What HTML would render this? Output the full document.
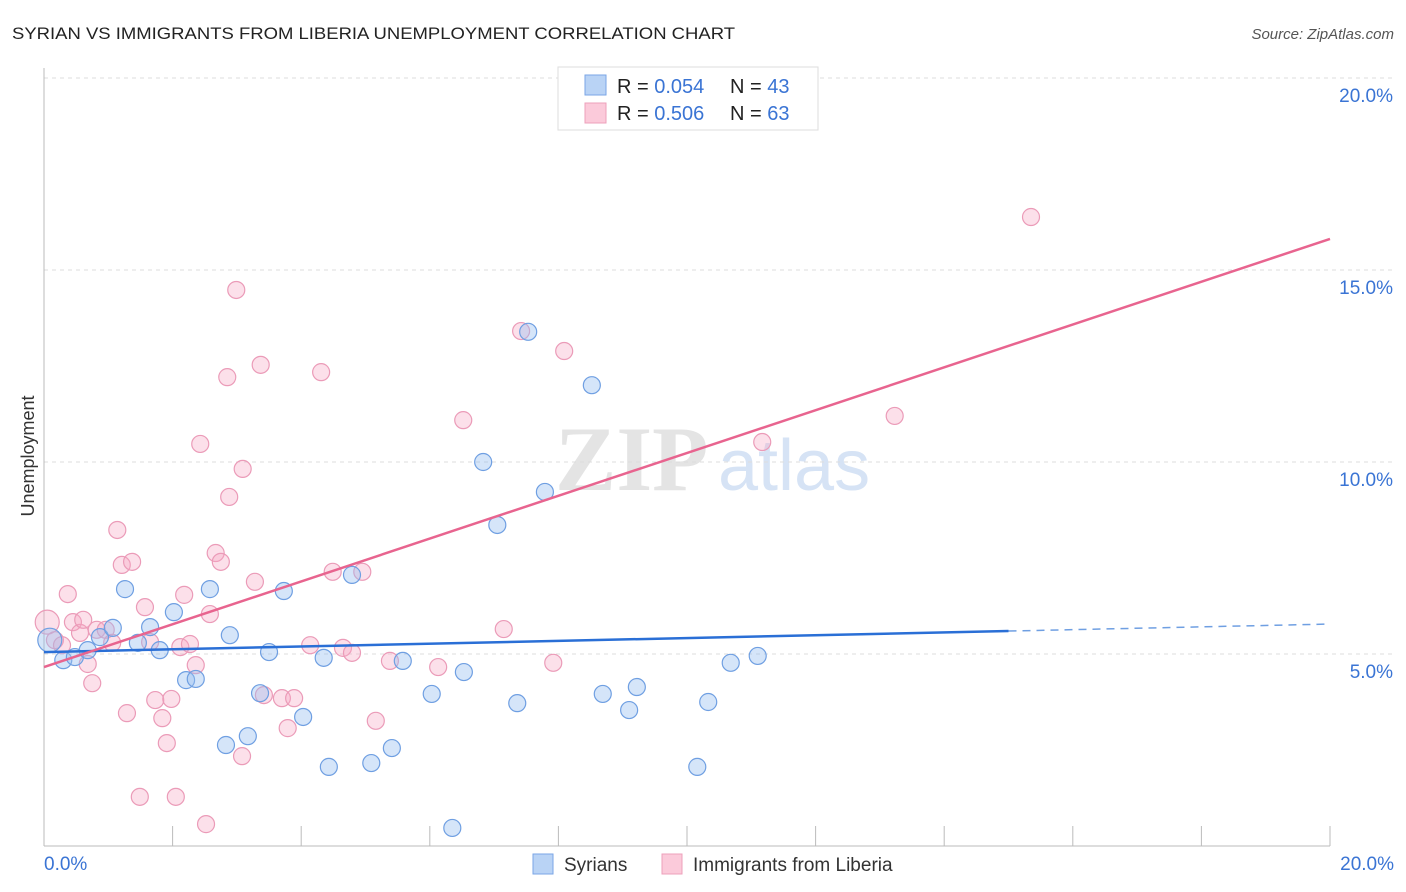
<!DOCTYPE html>
<html><head><meta charset="utf-8"><style>
body{margin:0;background:#fff;}
svg{display:block;font-family:"Liberation Sans",sans-serif;}
</style></head><body>
<svg id="chart" width="1406" height="892">
<text x="12" y="39" font-size="17" fill="#222" textLength="723" lengthAdjust="spacingAndGlyphs">SYRIAN VS IMMIGRANTS FROM LIBERIA UNEMPLOYMENT CORRELATION CHART</text>
<text x="1394" y="39" font-size="15" fill="#555" font-style="italic" text-anchor="end">Source: ZipAtlas.com</text>
<text x="34" y="456" font-size="18" fill="#333" text-anchor="middle" transform="rotate(-90 34 456)">Unemployment</text>
<g>
<text x="555" y="490" font-size="92" fill="#e4e4e4" font-family="Liberation Serif,serif" font-weight="bold">ZIP</text>
<text x="718" y="490" font-size="72" fill="#d6e3f5">atlas</text>
</g>
<g id="grid"></g>
<g id="axes"></g>
<g id="pts"></g>
<g id="trend"></g>
<g>
<rect x="558" y="67" width="260" height="63" fill="#fff" stroke="#ddd"/>
<rect x="585" y="75" width="21" height="20" fill="#b9d3f5" stroke="#7aa6e6"/>
<rect x="585" y="103" width="21" height="20" fill="#fbcada" stroke="#eea0bb"/>
<text x="617" y="93" font-size="20" fill="#222">R = <tspan fill="#3a74d4">0.054</tspan></text>
<text x="730" y="93" font-size="20" fill="#222">N = <tspan fill="#3a74d4">43</tspan></text>
<text x="617" y="120" font-size="20" fill="#222">R = <tspan fill="#3a74d4">0.506</tspan></text>
<text x="730" y="120" font-size="20" fill="#222">N = <tspan fill="#3a74d4">63</tspan></text>
</g>
<g>
<rect x="533" y="854" width="20" height="20" fill="#b9d3f5" stroke="#7aa6e6"/>
<text x="564" y="871" font-size="19" fill="#333">Syrians</text>
<rect x="662" y="854" width="20" height="20" fill="#fbcada" stroke="#eea0bb"/>
<text x="693" y="871" font-size="19" fill="#333">Immigrants from Liberia</text>
</g>
</svg>
<script>
const yTicks=[5,10,15,20];
const yTickLabels=["5.0%","10.0%","15.0%","20.0%"];
const xLabels=["0.0%","20.0%"];
const blueX=[0.09,0.30,0.48,0.68,0.87,1.07,1.26,1.46,1.65,1.80,2.02,2.21,2.36,2.58,2.89,2.83,3.17,3.36,3.50,3.73,4.03,4.35,4.43,4.79,5.09,5.41,5.58,6.03,6.35,6.53,6.83,7.05,7.36,7.53,7.79,8.52,8.69,9.10,9.22,10.16,10.33,10.68,11.10];
const blueY=[5.36,4.84,4.92,5.10,5.44,5.68,6.69,5.29,5.70,5.10,6.09,4.32,4.35,6.69,5.49,2.63,2.86,3.98,5.05,6.64,3.36,4.90,2.06,7.06,2.16,2.55,4.82,3.96,0.47,4.53,10.0,8.36,3.72,13.39,9.22,12.0,3.96,3.54,4.14,2.06,3.75,4.77,4.95];
const pinkX=[0.05,0.17,0.28,0.37,0.45,0.56,0.61,0.68,0.75,0.82,0.96,1.06,1.14,1.21,1.29,1.37,1.49,1.57,1.65,1.73,1.84,1.91,1.98,2.05,2.12,2.18,2.27,2.36,2.43,2.52,2.58,2.67,2.75,2.85,2.88,2.99,3.08,3.09,3.28,3.37,3.42,3.70,3.79,3.89,4.14,4.31,4.49,4.65,4.79,4.95,5.16,5.38,6.13,6.52,7.15,7.42,7.92,8.09,11.17,13.23,15.35];
const pinkY=[5.83,5.36,5.23,6.56,5.83,5.55,5.89,4.74,4.24,5.63,5.63,5.29,8.23,7.32,3.46,7.40,1.28,6.22,5.31,3.80,3.33,2.68,3.83,1.28,5.18,6.54,5.26,4.71,10.47,0.57,6.04,7.63,7.40,12.21,9.09,14.48,2.34,9.82,6.88,12.53,3.93,3.85,3.07,3.85,5.23,12.34,7.14,5.16,5.03,7.14,3.26,4.82,4.66,11.09,5.65,13.41,4.77,12.89,10.52,11.20,16.38];
const blueTrend=[5.05,5.78];
const pinkTrend=[4.66,15.81];
const ns="http://www.w3.org/2000/svg";
const X=v=>44+v*64.3, Y=v=>846-v*38.4;
function mk(tag,attrs,parent){const e=document.createElementNS(ns,tag);for(const k in attrs)e.setAttribute(k,attrs[k]);parent.appendChild(e);return e;}
const grid=document.getElementById('grid'),axes=document.getElementById('axes');
yTicks.forEach((t,i)=>{
 const l=mk('line',{x1:44,x2:1394,y1:Y(t),y2:Y(t),stroke:'#ddd','stroke-dasharray':'4,4'},grid);
 
 
 const tx=mk('text',{x:1393,y:Y(t)+24,'font-size':19,fill:'#3a74d4','text-anchor':'end'},axes);
 tx.textContent=yTickLabels[i];
 
 
});
mk('line',{x1:44,x2:44,y1:68,y2:846,stroke:'#bbb'},axes);
mk('line',{x1:44,x2:1330,y1:846,y2:846,stroke:'#bbb'},axes);
for(let i=0;i<=10;i++){const x=44+i*128.6;mk('line',{x1:x,x2:x,y1:826,y2:846,stroke:'#bbb'},axes);}
[[44,'start',0],[1394,'end',1]].forEach(([x,a,i])=>{const t=mk('text',{x:x,y:870,'font-size':19,fill:'#3a74d4','text-anchor':a},axes);t.textContent=xLabels[i];
 
 });
const pts=document.getElementById('pts');
pinkX.forEach((v,i)=>{const c=mk('circle',{cx:X(v),cy:Y(pinkY[i]),r:i==0?12:8.5,fill:'rgba(245,165,195,0.35)',stroke:'#eb9bb8','stroke-width':1.2},pts);
 
 });
blueX.forEach((v,i)=>{const c=mk('circle',{cx:X(v),cy:Y(blueY[i]),r:i==0?12:8.5,fill:'rgba(150,190,240,0.4)',stroke:'#6f9fe2','stroke-width':1.2},pts);
 
 });
const tr=document.getElementById('trend');
const by=x=>blueTrend[0]+(blueTrend[1]-blueTrend[0])*x/20;
let l1=mk('line',{x1:X(0),y1:Y(by(0)),x2:X(15),y2:Y(by(15)),stroke:'#2a6fd6','stroke-width':2.5},tr);


let l2=mk('line',{x1:X(15),y1:Y(by(15)),x2:X(20),y2:Y(by(20)),stroke:'#6f9fe2','stroke-width':1.5,'stroke-dasharray':'8,6'},tr);


let l3=mk('line',{x1:X(0),y1:Y(pinkTrend[0]),x2:X(20),y2:Y(pinkTrend[1]),stroke:'#e8648f','stroke-width':2.5},tr);


</script>
</body></html>
